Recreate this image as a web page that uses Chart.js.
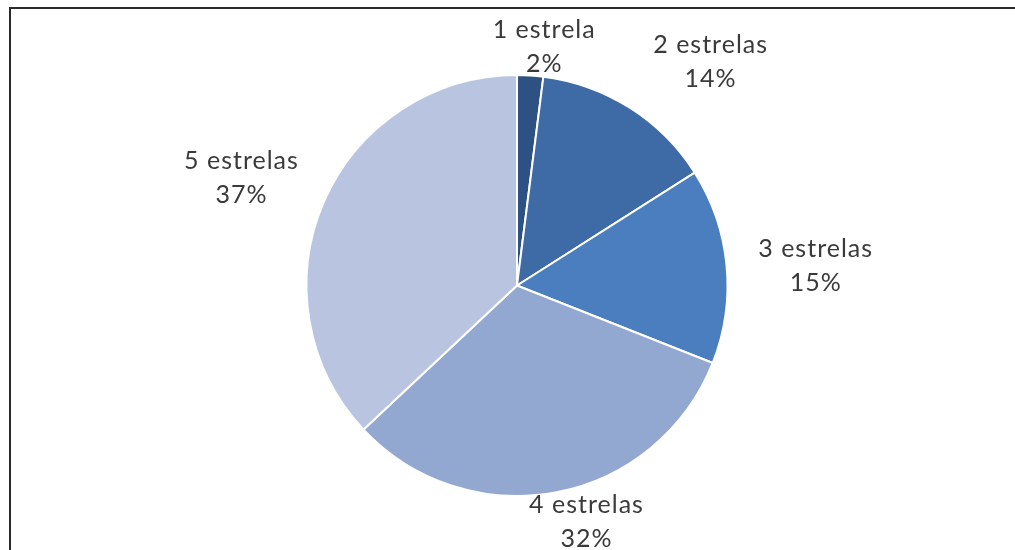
<!DOCTYPE html>
<html>
<head>
<meta charset="utf-8">
<script src="https://cdn.jsdelivr.net/npm/chart.js@4"></script>
<style>
    html, body { margin: 0; padding: 0; background: #fff; }
    #wrap { position: relative; width: 1015px; height: 550px; overflow: hidden; }
    #frame { position: absolute; left: 9px; top: 7px; width: 1100px; height: 700px;
             border-left: 2px solid #2a2a2a; border-top: 2px solid #2a2a2a; }
    canvas { position: absolute; left: 0; top: 0; }
</style>
</head>
<body>
<div id="wrap">
    <div id="frame"></div>
    <canvas id="ratingChart" width="1015" height="550"></canvas>
</div>
<script>
var categories = ['1 estrela', '2 estrelas', '3 estrelas', '4 estrelas', '5 estrelas'];
var percentages = [2, 14, 15, 32, 37];
var sliceColors = ['#2d5183', '#3e6ba6', '#4a7ebe', '#93a8d0', '#b9c5e0'];

// where each label sits: angle from 12 o'clock (deg) and distance as a share of the radius
var labelAngles = [6.5, 40.9, 86.2, 163.6, 291.3];
var labelDistances = [1.14, 1.405, 1.422, 1.17, 1.405];

var outsideLabels = {
    id: 'outsideLabels',
    afterDatasetsDraw: function (chart) {
        var ctx = chart.ctx;
        var arcs = chart.getDatasetMeta(0).data;
        ctx.save();
        ctx.fillStyle = '#3a3a3a';
        ctx.font = '25px Lato';
        ctx.letterSpacing = '1px';
        ctx.textAlign = 'center';
        ctx.textBaseline = 'middle';
        arcs.forEach(function (arc, i) {
            var a = (labelAngles[i] - 90) * Math.PI / 180;
            var d = arc.outerRadius * labelDistances[i];
            var x = arc.x + Math.cos(a) * d;
            var y = arc.y + Math.sin(a) * d;
            ctx.fillText(categories[i], x, y - 17);
            ctx.fillText(percentages[i] + '%', x, y + 17);
        });
        ctx.restore();
    }
};

document.addEventListener('DOMContentLoaded', function () {
    var ratingCtx = document.getElementById('ratingChart').getContext('2d');
    new Chart(ratingCtx, {
        type: 'pie',
        data: {
            labels: categories,
            datasets: [{
                data: percentages,
                backgroundColor: sliceColors,
                borderColor: '#ffffff',
                borderWidth: 2
            }]
        },
        options: {
            responsive: false,
            animation: false,
            layout: {
                padding: { top: 74, bottom: 53, left: 100, right: 81 }
            },
            plugins: {
                legend: { display: false },
                tooltip: { enabled: false }
            }
        },
        plugins: [outsideLabels]
    });
});
</script>
</body>
</html>
